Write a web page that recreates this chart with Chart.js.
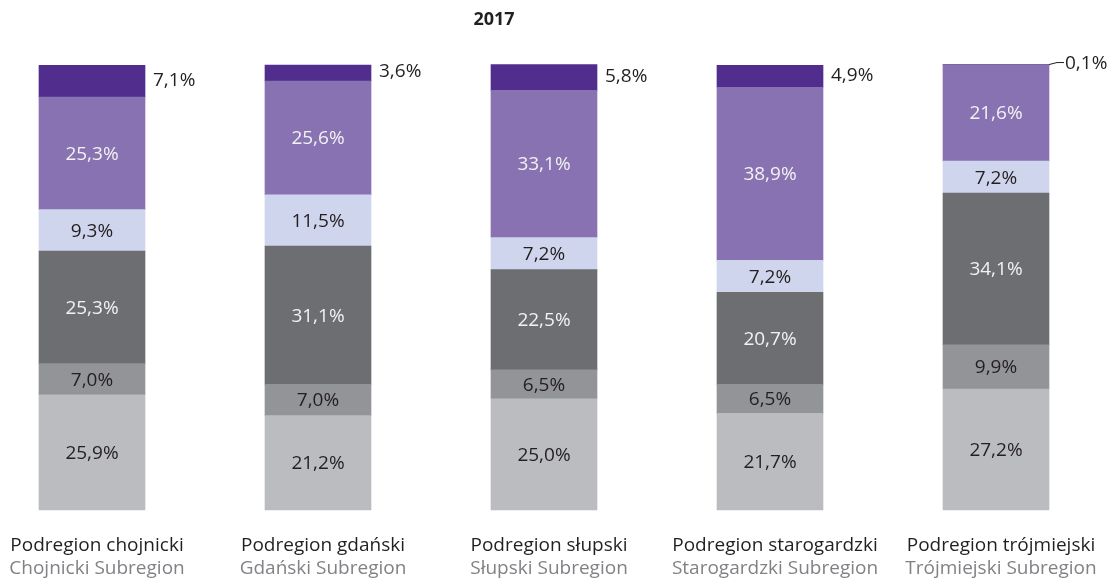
<!DOCTYPE html>
<html>
<head>
<meta charset="utf-8">
<script src="https://cdn.jsdelivr.net/npm/chart.js@4"></script>
<style>
  html, body { margin: 0; padding: 0; background: #fff; }
  #wrap { width: 1112px; height: 578px; position: relative; }
</style>
</head>
<body>
<div id="wrap"><canvas id="myChart" width="1112" height="578"></canvas></div>
<script>
// regions, Polish name + English name under it
const regionsPl = ['Podregion chojnicki', 'Podregion gdański', 'Podregion słupski', 'Podregion starogardzki', 'Podregion trójmiejski'];
const regionsEn = ['Chojnicki Subregion', 'Gdański Subregion', 'Słupski Subregion', 'Starogardzki Subregion', 'Trójmiejski Subregion'];

// shares in %, bottom segment first
const seg1 = [25.9, 21.2, 25.0, 21.7, 27.2];
const seg2 = [7.0, 7.0, 6.5, 6.5, 9.9];
const seg3 = [25.3, 31.1, 22.5, 20.7, 34.1];
const seg4 = [9.3, 11.5, 7.2, 7.2, 7.2];
const seg5 = [25.3, 25.6, 33.1, 38.9, 21.6];
const seg6 = [7.1, 3.6, 5.8, 4.9, 0.1];

const chartTitle = '2017';

const segColors = ['#bbbcc0', '#939497', '#6d6e71', '#d0d5ee', '#8872b2', '#512d8e'];
const labelColors = ['#231f20', '#231f20', '#f2f2f2', '#231f20', '#f2f2f2', '#231f20'];

const fmt = v => v.toFixed(1).replace('.', ',') + '%';

const labelsPlugin = {
    id: 'segLabels',
    afterDatasetsDraw(chart) {
        const ctx = chart.ctx;
        const xScale = chart.scales.x;
        ctx.save();
        ctx.textBaseline = 'middle';
        ctx.font = '19px "Open Sans"';

        chart.data.datasets.forEach((ds, di) => {
            const meta = chart.getDatasetMeta(di);
            meta.data.forEach((bar, i) => {
                const v = ds.data[i];
                const top = Math.min(bar.y, bar.base);
                const bottom = Math.max(bar.y, bar.base);
                const midY = (top + bottom) / 2;
                ctx.fillStyle = labelColors[di];
                if (di === chart.data.datasets.length - 1) {
                    // top segment: label sits to the right of the bar
                    const right = bar.x + bar.width / 2;
                    ctx.textAlign = 'left';
                    if (bottom - top < 6) {
                        ctx.strokeStyle = '#231f20';
                        ctx.lineWidth = 1;
                        ctx.beginPath();
                        ctx.moveTo(right, top);
                        ctx.lineTo(right + 8, top - 2);
                        ctx.lineTo(right + 15, top - 2);
                        ctx.stroke();
                        ctx.fillText(fmt(v), right + 16, top - 1);
                    } else {
                        ctx.fillText(fmt(v), right + 8, midY - 1);
                    }
                } else {
                    ctx.textAlign = 'center';
                    ctx.fillText(fmt(v), bar.x, midY + 1);
                }
            });
        });

        // region names under the bars
        ctx.textAlign = 'center';
        ctx.textBaseline = 'alphabetic';
        regionsPl.forEach((name, i) => {
            const x = xScale.getPixelForValue(i);
            ctx.fillStyle = '#231f20';
            ctx.fillText(name, x + 5, 551);
            ctx.fillStyle = '#808285';
            ctx.fillText(regionsEn[i], x + 5, 574);
        });

        ctx.font = 'bold 18px "Open Sans"';
        ctx.fillStyle = '#231f20';
        ctx.fillText(chartTitle, 494, 25);
        ctx.restore();
    }
};

const series = [seg1, seg2, seg3, seg4, seg5, seg6];

new Chart(document.getElementById('myChart'), {
    type: 'bar',
    data: {
        labels: regionsPl,
        datasets: series.map((d, i) => ({
            data: d,
            backgroundColor: segColors[i],
            borderWidth: 0,
            barThickness: 106,
            clip: false
        }))
    },
    options: {
        responsive: false,
        animation: false,
        layout: { padding: { left: 92, right: 116, top: 65, bottom: 68 } },
        scales: {
            x: { stacked: true, offset: false, display: false },
            y: { stacked: true, min: 0, max: 100, display: false }
        },
        plugins: {
            legend: { display: false },
            tooltip: { enabled: false }
        }
    },
    plugins: [labelsPlugin]
});
</script>
</body>
</html>
